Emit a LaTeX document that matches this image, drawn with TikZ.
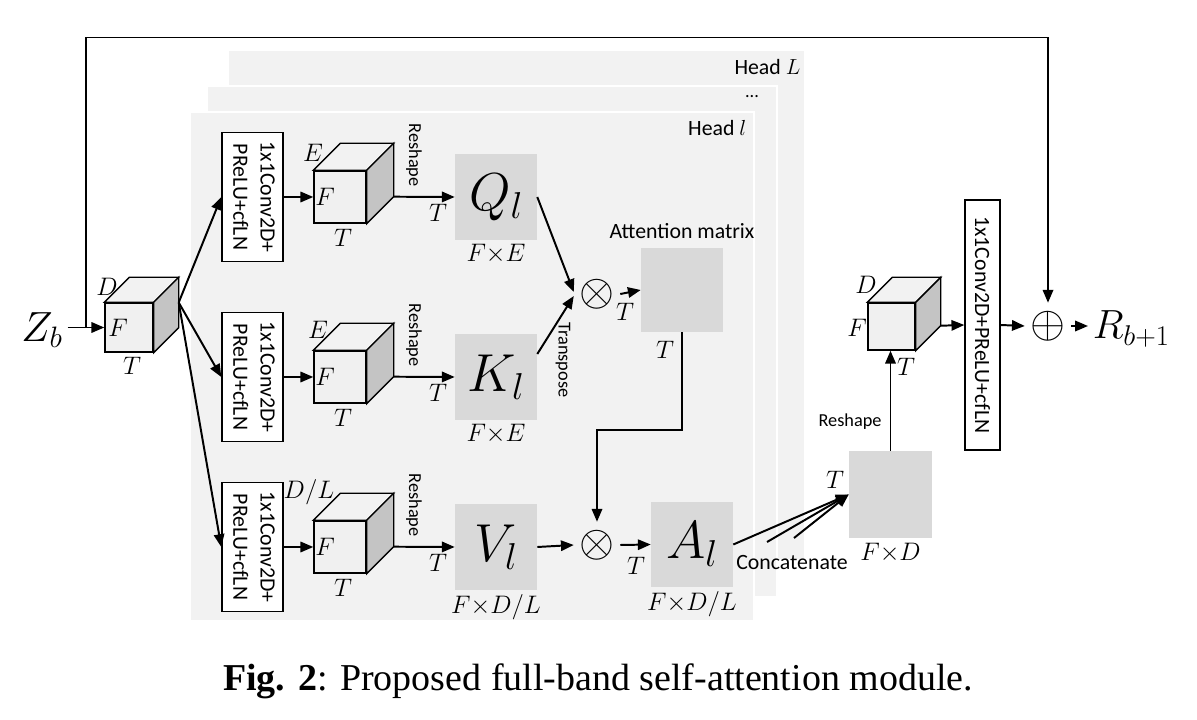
\RequirePackage{fix-cm}
\documentclass[tikz,border=0pt]{standalone}
\usepackage[no-math]{fontspec}
\usepackage{graphicx}
\setmainfont{Liberation Serif}
\setsansfont{Carlito}
\usepackage{tikz}
\usetikzlibrary{positioning,calc,arrows.meta}
\definecolor{panelgray}{HTML}{F2F2F2}
\definecolor{matgray}{HTML}{D9D9D9}
\definecolor{sidegray}{HTML}{C4C4C4}
\definecolor{facegray}{HTML}{F0F0F0}

\begin{document}
\begin{tikzpicture}[x=0.025cm, y=-0.025cm,
    every node/.style={font=\sffamily\fontsize{15.5}{19.5}\selectfont},
    panel/.style={fill=panelgray, draw=white, line width=2pt},
    conv/.style={draw, line width=1pt, fill=white, inner sep=0pt, minimum width=1.525cm, minimum height=3.225cm},
    cubeface/.style={draw, line width=1pt, fill=facegray, inner sep=0pt},
    cubeside/.style={line width=1pt, fill=#1},
    matbox/.style={fill=matgray, inner sep=0pt, minimum width=2.05cm, minimum height=2.125cm, font=\fontsize{38}{42}\selectfont},
    mlbl/.style={font=\fontsize{18}{21}\selectfont, inner sep=1pt},
    small/.style={font=\sffamily\fontsize{13}{15}\selectfont},
    op/.style={circle, inner sep=0pt, minimum size=0.95cm, font=\fontsize{32}{36}\selectfont},
    arr/.style={-{Triangle[length=3.2mm,width=2.6mm]}, line width=1.4pt}]
    \useasboundingbox (0,0) rectangle (1197,720);

    % Heads
    \draw[panel] (228,50) rectangle (805,560);
    \draw[panel] (207,86) rectangle (777,597);
    \draw[panel] (190,112) rectangle (754,621);
    \node[anchor=east, inner sep=1pt] (headL) at (802,67) {Head $L$};
    \node[inner sep=0pt, font=\sffamily\fontsize{13}{15}\selectfont] (dots) at (752,97) {...};
    \node[anchor=east, inner sep=1pt] (headl) at (748,128) {Head $l$};

    % Input
    \node[font=\fontsize{30}{34}\selectfont] (zb) at (42,330) {$Z_b$};
    \node[cubeface, minimum width=1.2cm, minimum height=1.225cm] (cube0) at (129,327.5) {};
    \filldraw[cubeside=panelgray] (cube0.north west) -- ++(25,-25) -- ($(cube0.north east)+(25,-25)$) -- (cube0.north east) -- cycle;
    \filldraw[cubeside=sidegray] (cube0.north east) -- ++(25,-25) -- ($(cube0.south east)+(25,-25)$) -- (cube0.south east) -- cycle;
    \node[mlbl] (d0) at (107,287) {$D$};
    \node[mlbl] (f0) at (118,328) {$F$};
    \node[mlbl] (t0) at (132,366) {$T$};
    \coordinate (split) at (86,327.5);
    \coordinate (c0out) at ($(cube0.east)+(25,-25)$);
    \draw[arr] (zb.east |- cube0) -- (cube0.west);

    % Q, K, V branches
    \foreach \i/\y/\dd/\m/\dx/\dy in {1/197/E/Q/313/-44, 2/377/E/K/318/-47, 3/547/{D/L}/V/309/-55} {
        \node[conv] (conv\i) at (252.5,\y) {\rotatebox{-90}{\begin{tabular}{@{}c@{}}1x1Conv2D+\\PReLU+cfLN\end{tabular}}};
        \draw[arr] (c0out) -- (conv\i.west);
        \node[cubeface, minimum size=1.3cm] (cube\i) at (340,\y) {};
        \filldraw[cubeside=panelgray] (cube\i.north west) -- ++(27,-27) -- ($(cube\i.north east)+(27,-27)$) -- (cube\i.north east) -- cycle;
        \filldraw[cubeside=sidegray] (cube\i.north east) -- ++(27,-27) -- ($(cube\i.south east)+(27,-27)$) -- (cube\i.south east) -- cycle;
        \node[mlbl] (d\i) at (\dx,{\y+\dy}) {$\dd$};
        \node[mlbl] (f\i) at (325,\y) {$F$};
        \node[mlbl] (t\i) at (343,{\y+41}) {$T$};
        \draw[arr] (conv\i.east) -- (cube\i.west);
        \node[matbox] (mat\i) at (496,\y) {$\m_l$};
        \node[mlbl, below=2pt of mat\i] (dim\i) {$F{\times}\dd$};
        \draw[arr] ($(cube\i.south east)+(27,-27)$) -- (mat\i.west);
        \node[small, rotate=-90] (rs\i) at (414,{\y-42}) {Reshape};
        \node[mlbl] (tr\i) at (438,{\y+16}) {$T$};
    }

    % Attention matrix
    \node[op] (ot1) at (597,294) {$\otimes$};
    \node[matbox, minimum height=2.1cm] (att) at (682,290) {};
    \node[above=3pt of att] (atttxt) {Attention matrix};
    \node[mlbl] (tatt) at (665,350) {$T$};
    \draw[arr] (mat1.east) -- ($(ot1.west)+(0,-2)$);
    \draw[arr] ($(mat2.east)+(0,-23)$) -- ($(ot1.west)+(0,2)$);
    \node[small, rotate=-90] (trsp) at (563,360) {Transpose};
    \draw[arr] (ot1.east) -- (att.west);
    \node[mlbl] (tq) at (625,312) {$T$};

    % Weighted values
    \node[op] (ot2) at (597,545) {$\otimes$};
    \draw[arr] (att.south) -- ++(0,98) -| (ot2.north);
    \draw[arr] (mat3.east) -- (ot2.west);
    \node[matbox] (A) at (692,544.5) {$A_l$};
    \node[mlbl, below=2pt of A] (dimA) {$F{\times}D/L$};
    \draw[arr] (ot2.east) -- (A.west);
    \node[mlbl] (ta) at (636,566) {$T$};

    % Concatenate
    \node[matbox, minimum width=2.075cm, minimum height=2.175cm] (fd) at (890.5,494.5) {};
    \node[mlbl, below=2pt of fd] (dimfd) {$F{\times}D$};
    \coordinate (cat2) at (767,542);
    \coordinate (cat3) at (794,538);
    \draw[arr] (A.east) -- (fd.west);
    \draw[arr] (cat2) -- (fd.west);
    \draw[arr] (cat3) -- (fd.west);
    \node (cattxt) at (792,563) {Concatenate};
    \node[mlbl] (tfd) at (835,480) {$T$};

    % Output
    \node[cubeface, minimum size=1.175cm] (cube4) at (891.5,326.5) {};
    \filldraw[cubeside=panelgray] (cube4.north west) -- ++(25,-25) -- ($(cube4.north east)+(25,-25)$) -- (cube4.north east) -- cycle;
    \filldraw[cubeside=sidegray] (cube4.north east) -- ++(25,-25) -- ($(cube4.south east)+(25,-25)$) -- (cube4.south east) -- cycle;
    \node[mlbl] (d4) at (866,285) {$D$};
    \node[mlbl] (f4) at (857,328) {$F$};
    \node[mlbl] (t4) at (906,367) {$T$};
    \draw[arr] (fd.north) -- (fd.north |- cube4.south);
    \node[small] (rs4) at (850,422) {Reshape};
    \node[conv, minimum width=0.875cm, minimum height=6.25cm] (conv4) at (982.5,325) {\rotatebox{-90}{1x1Conv2D+PReLU+cfLN}};
    \draw[arr] ($(cube4.south east)+(25,-25)$) -- (conv4.west);
    \node[op, minimum size=0.7cm] (plus) at (1048,326) {$\oplus$};
    \draw[arr] (conv4.east) -- (plus.west);
    \node[anchor=west, font=\fontsize{29}{33}\selectfont] (R) at (1088,329) {$R_{b+1}$};
    \draw[arr] (plus.east) -- (plus.east -| R.west);
    \draw[arr] (split) -- ++(0,-290) -| (plus.north);

    % Caption
    \node[font=\rmfamily\fontsize{27}{32}\selectfont] (cap) at (598,681) {\textbf{Fig. 2}: Proposed full-band self-attention module.};
\end{tikzpicture}
\end{document}
